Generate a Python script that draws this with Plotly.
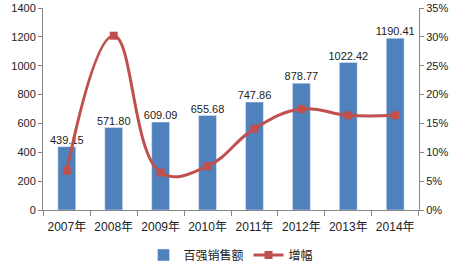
import plotly.graph_objects as go

years = ["2007年", "2008年", "2009年", "2010年", "2011年", "2012年", "2013年", "2014年"]
sales = [439.15, 571.80, 609.09, 655.68, 747.86, 878.77, 1022.42, 1190.41]
growth = [6.8, 30.2, 6.5, 7.6, 14.1, 17.5, 16.4, 16.4]
sales_labels = ["439.15", "571.80", "609.09", "655.68", "747.86", "878.77", "1022.42", "1190.41"]

font = "Liberation Sans, Arial, Noto Sans CJK SC, sans-serif"
fig = go.Figure()
fig.add_trace(go.Bar(
    x=years, y=sales, name="百强销售额", marker_color="#4F81BD", width=0.38,
))
fig.add_trace(go.Scatter(
    x=years, y=sales, mode="text", text=sales_labels, textposition="top center",
    textfont=dict(size=11, color="#222"), showlegend=False, hoverinfo="skip",
    cliponaxis=False,
))
fig.add_trace(go.Scatter(
    x=years, y=growth, name="增幅", yaxis="y2", mode="lines+markers",
    line=dict(color="#C0504D", width=3, shape="spline", smoothing=1.2),
    marker=dict(symbol="square", size=8, color="#C0504D"),
))
fig.update_layout(
    width=455, height=267, margin=dict(l=43, r=36, t=8, b=57, autoexpand=False),
    paper_bgcolor="white", plot_bgcolor="white",
    font=dict(family=font, size=11, color="#222"),
    showlegend=True,
    legend=dict(orientation="h", x=0.5, xanchor="center", yref="container",
                y=0.045, yanchor="middle", font=dict(size=12), traceorder="normal"),
    xaxis=dict(showline=True, linecolor="#888", ticks="outside", tickcolor="#888",
               ticklen=5, tickson="boundaries", tickangle=0, ticklabelstandoff=6,
               tickfont=dict(size=12)),
    yaxis=dict(range=[0, 1400], dtick=200, showline=True, linecolor="#888",
               ticks="outside", tickcolor="#888", ticklen=4, showgrid=False,
               zeroline=False, tickfont=dict(size=11)),
    yaxis2=dict(range=[0, 35], dtick=5, overlaying="y", side="right",
                ticksuffix="%", showline=True, linecolor="#888", ticks="outside",
                tickcolor="#888", ticklen=4, showgrid=False, zeroline=False,
                tickfont=dict(size=11)),
)
fig.write_html("out.html")
